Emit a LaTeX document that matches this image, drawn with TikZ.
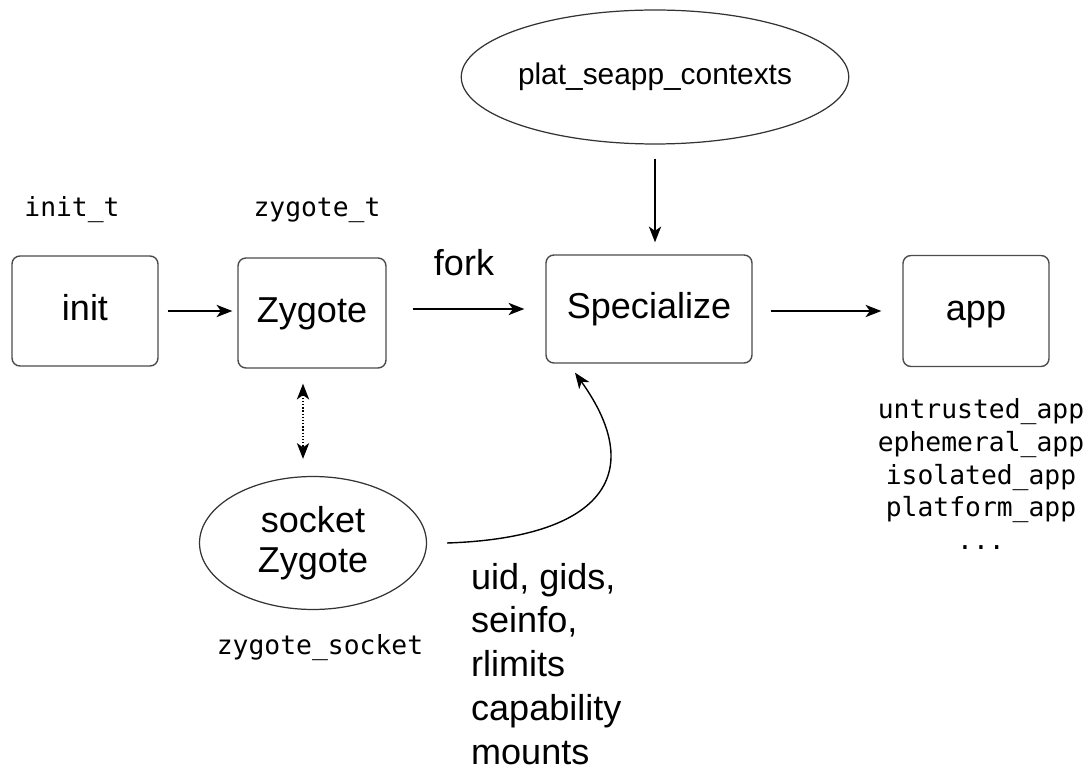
\documentclass[tikz,border=0pt]{standalone}
\usepackage{fontspec}
\setmainfont{Liberation Sans}
\newfontfamily\codefont{DejaVu Sans Mono}
\usepackage{tikz}
\usetikzlibrary{shapes,arrows.meta}

\begin{document}
\begin{tikzpicture}[x=0.02cm, y=-0.02cm,
        main/.style={rectangle, rounded corners=4.5pt, draw=black!70, line width=0.8pt, minimum width=2.92cm, minimum height=2.2cm, text height=1.25em, text depth=0.2em, font=\fontsize{20.5}{24}\selectfont},
        oval/.style={ellipse, draw=black!80, line width=0.7pt, inner sep=0pt, align=center},
        code/.style={font=\codefont\fontsize{15}{18.7}\selectfont, align=center},
        big/.style={font=\fontsize{20.5}{25}\selectfont},
        arr/.style={-{Stealth[length=9pt, width=7pt, inset=2.5pt]}, line width=0.8pt}]
        \useasboundingbox (0,0) rectangle (1088,776);
        \node[main] (init) at (85,311) {init};
        \node[main, minimum width=2.96cm] (zygote) at (312,313) {Zygote};
        \node[main, minimum width=4.12cm, minimum height=2.16cm] (spec) at (649,309) {Specialize};
        \node[main, minimum height=2.22cm] (app) at (976,311) {app};
        \node[oval, minimum width=6.9cm, minimum height=2.68cm, font=\fontsize{17}{20}\selectfont] (plat) at (655,77) {plat\_seapp\_contexts};
        \node[oval, minimum width=4.54cm, minimum height=2.66cm, font=\fontsize{20.5}{23}\selectfont] (sock) at (313,543) {socket\\Zygote};
        \node[code] (initt) at (72,210) {init\_t};
        \node[code] (zygt) at (317,210) {zygote\_t};
        \node[code] (sockt) at (320,648) {zygote\_socket};
        \node[code] (apps) at (981,474) {untrusted\_app\\ephemeral\_app\\isolated\_app\\platform\_app\\...};
        \node[big] (fork) at (464,263) {fork};
        \node[big, anchor=west, align=left] (params) at (465,664) {uid, gids,\\seinfo,\\rlimits\\capability\\mounts};
        \draw[arr, shorten <=0.18cm, shorten >=0.1cm] (init) -- (init -| zygote.west);
        \draw[arr, shorten <=0.52cm, shorten >=0.42cm] (zygote.east |- spec) -- (spec.west);
        \draw[arr, shorten <=0.36cm, shorten >=0.42cm] (spec.east |- app) -- (app.west);
        \draw[arr, shorten <=0.28cm, shorten >=0.24cm] (plat.south) -- (plat.south |- spec.north);
        \draw[{Stealth[length=9pt, width=7pt, inset=2.5pt]}-{Stealth[length=9pt, width=7pt, inset=2.5pt]}, densely dotted, line width=0.8pt, shorten <=0.3cm, shorten >=0.34cm] ([xshift=-0.18cm]zygote.south) -- ([xshift=-0.18cm]zygote.south |- sock.north);
        \draw[arr] ([xshift=0.4cm]sock.east) .. controls +(150,-5) and +(75,105) .. ([xshift=-1.48cm, yshift=-0.18cm]spec.south);
    \end{tikzpicture}
\end{document}
